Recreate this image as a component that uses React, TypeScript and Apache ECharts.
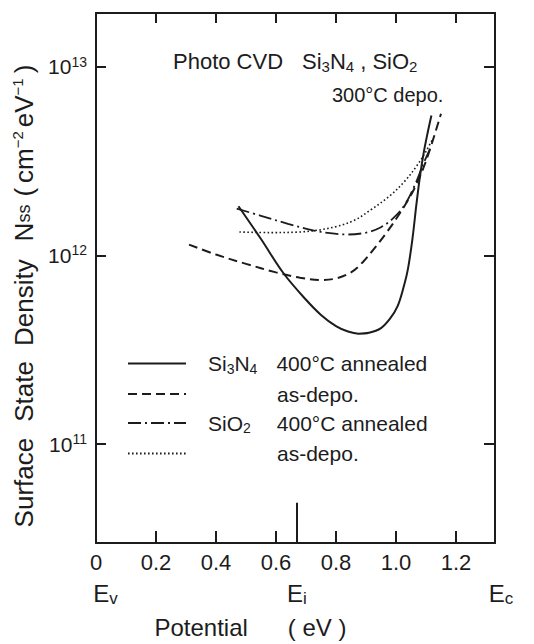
import React, { useEffect, useRef } from "react";
import * as echarts from "echarts";

// ---------- axis ranges & ticks ----------
const X_MIN = 0;
const X_MAX = 1.33;
const Y_MIN = 3.0e10;
const Y_MAX = 1.92e13;

const xTickValues = [0.2, 0.4, 0.6, 0.8, 1.0, 1.2];
const xLabelValues = [0, 0.2, 0.4, 0.6, 0.8, 1.0, 1.2];
const yTickValues = [1e11, 1e12, 1e13];

// band-edge labels under the axis (Ev, Ei, Ec)
const bandEdgeValues = [0, 0.67, 1.33];
const bandEdgeSubs = ["v", "i", "c"];
const EI = 0.67;
const EI_TICK_TOP = 4.9e10;

// ---------- data (Potential eV, Nss cm^-2 eV^-1) ----------
const si3n4AnnealedX = [0.475, 0.55, 0.625, 0.7, 0.75, 0.8, 0.84, 0.875, 0.91, 0.95, 0.98, 1.005, 1.025, 1.04, 1.055, 1.068, 1.08, 1.092, 1.105, 1.118];
const si3n4AnnealedN = [1.82e12, 1.22e12, 8.04e11, 5.82e11, 4.84e11, 4.22e11, 3.95e11, 3.85e11, 3.89e11, 4.12e11, 4.62e11, 5.37e11, 6.76e11, 8.51e11, 1.23e12, 1.86e12, 2.63e12, 3.47e12, 4.42e12, 5.5e12];

const si3n4AsDepoX = [0.31, 0.4, 0.5, 0.6, 0.68, 0.75, 0.8, 0.85, 0.89, 0.93, 0.97, 1.02, 1.06, 1.1, 1.15];
const si3n4AsDepoN = [1.14e12, 1.01e12, 9.02e11, 8.13e11, 7.62e11, 7.41e11, 7.55e11, 8.13e11, 9.23e11, 1.1e12, 1.33e12, 1.74e12, 2.24e12, 3.16e12, 5.62e12];

const sio2AnnealedX = [0.469, 0.55, 0.64, 0.72, 0.78, 0.84, 0.9, 0.95, 0.99, 1.03, 1.065, 1.09, 1.118];
const sio2AnnealedN = [1.77e12, 1.62e12, 1.47e12, 1.36e12, 1.31e12, 1.29e12, 1.32e12, 1.41e12, 1.57e12, 1.86e12, 2.4e12, 3.02e12, 3.8e12];

const sio2AsDepoX = [0.478, 0.58, 0.68, 0.74, 0.8, 0.86, 0.92, 0.98, 1.03, 1.07, 1.1, 1.12];
const sio2AsDepoN = [1.33e12, 1.32e12, 1.33e12, 1.36e12, 1.42e12, 1.53e12, 1.76e12, 2.07e12, 2.48e12, 2.99e12, 3.55e12, 4.07e12];

const seriesNames = [
  "Si3N4 400°C annealed",
  "Si3N4 as-depo.",
  "SiO2 400°C annealed",
  "SiO2 as-depo.",
];

// ---------- styling ----------
const INK = "#1c1c1c";
const FONT = "'Liberation Sans', Arial, sans-serif";
const lg = (v: number) => Math.log10(v);
const pairs = (xs: number[], ns: number[]) => xs.map((x, i) => [x, lg(ns[i])]);

const legendText: Record<string, string> = {
  "Si3N4 400°C annealed": "{p| }{t|Si}{sub|3}{t|N}{sub|4}{g1| }{t|400°C annealed}",
  "Si3N4 as-depo.": "{p| }{g0| }{t|as-depo.}",
  "SiO2 400°C annealed": "{p| }{t|SiO}{sub|2}{g3| }{t|400°C annealed}",
  "SiO2 as-depo.": "{p| }{g0| }{t|as-depo.}",
};

export default function App() {
  const ref = useRef<HTMLDivElement>(null);

  useEffect(() => {
    if (!ref.current) return;
    const chart = echarts.init(ref.current, undefined, { renderer: "svg" });

    const lineSeries = (name: string, data: number[][], lineStyle: any, extra: any = {}) => ({
      name,
      type: "line",
      data,
      smooth: 0.35,
      symbol: "none",
      showSymbol: false,
      silent: true,
      lineStyle: { color: INK, ...lineStyle },
      itemStyle: { color: INK },
      ...extra,
    });

    const axisLine = { show: true, onZero: false, lineStyle: { color: INK, width: 2 } };

    const option: any = {
      animation: false,
      backgroundColor: "#ffffff",
      grid: { left: 96, top: 13, width: 399, height: 536 },
      title: [
        {
          text: "{t|Photo CVD}{g| }{t|Si}{sub|3}{t|N}{sub|4}{t| ,}{c| }{t|SiO}{sub|2}",
          left: 173,
          top: 48,
          padding: 0,
          textStyle: {
            fontFamily: FONT,
            fontWeight: "normal",
            rich: {
              t: { fontFamily: FONT, fontSize: 22, lineHeight: 26, color: INK },
              sub: { fontFamily: FONT, fontSize: 15, lineHeight: 10, verticalAlign: "bottom", color: INK },
              g: { width: 19 },
              c: { width: 6 },
            },
          },
        },
        {
          text: "300°C depo.",
          left: 332,
          top: 85,
          padding: 0,
          textStyle: { fontFamily: FONT, fontWeight: "normal", fontSize: 20, color: INK },
        },
      ],
      legend: {
        data: seriesNames,
        orient: "vertical",
        left: 127,
        top: 353,
        padding: 0,
        itemWidth: 58,
        itemHeight: 14,
        itemGap: 8,
        selectedMode: false,
        itemStyle: { color: "rgba(0,0,0,0)", borderColor: "rgba(0,0,0,0)", borderWidth: 0 },
        formatter: (name: string) => legendText[name] || name,
        textStyle: {
          fontFamily: FONT,
          fontSize: 21,
          color: INK,
          rich: {
            t: { fontFamily: FONT, fontSize: 21, lineHeight: 24, color: INK },
            sub: { fontFamily: FONT, fontSize: 14, lineHeight: 10, verticalAlign: "bottom", color: INK },
            p: { width: 17 },
            g0: { width: 69 },
            g1: { width: 19 },
            g3: { width: 26 },
          },
        },
      },
      xAxis: [
        {
          type: "value",
          position: "bottom",
          min: X_MIN,
          max: X_MAX,
          axisLine,
          splitLine: { show: false },
          axisTick: { show: true, inside: true, length: 12, customValues: xTickValues, lineStyle: { color: INK, width: 2 } },
          axisLabel: {
            show: true,
            customValues: xLabelValues,
            margin: 8,
            formatter: (v: number) => (v === 0 ? "0" : v.toFixed(1)),
            fontFamily: FONT,
            fontSize: 22,
            color: INK,
          },
        },
        {
          type: "value",
          position: "top",
          min: X_MIN,
          max: X_MAX,
          axisLine,
          splitLine: { show: false },
          axisTick: { show: true, inside: true, length: 10, customValues: xTickValues, lineStyle: { color: INK, width: 2 } },
          axisLabel: { show: false },
        },
        {
          type: "value",
          position: "bottom",
          offset: 28,
          min: X_MIN,
          max: X_MAX,
          axisLine: { show: false },
          axisTick: { show: false },
          splitLine: { show: false },
          axisLabel: {
            show: true,
            customValues: bandEdgeValues,
            margin: 8,
            formatter: (v: number) => {
              const i = bandEdgeValues.findIndex((b) => Math.abs(b - v) < 1e-6);
              const sub = bandEdgeSubs[i] ?? "";
              const pre = i === 0 ? "{p0| }" : i === 2 ? "{p2| }" : "";
              return `${pre}{e|E}{s|${sub}}`;
            },
            rich: {
              e: { fontFamily: FONT, fontSize: 24, lineHeight: 28, color: INK },
              s: { fontFamily: FONT, fontSize: 17, lineHeight: 12, verticalAlign: "bottom", color: INK },
              p0: { width: 19 },
              p2: { width: 12 },
            },
          },
          name: "Potential      ( eV )",
          nameLocation: "middle",
          nameGap: 44,
          nameTextStyle: { fontFamily: FONT, fontSize: 24, color: INK, padding: [0, 90, 0, 0] },
        },
      ],
      yAxis: [
        {
          type: "value",
          position: "left",
          min: lg(Y_MIN),
          max: lg(Y_MAX),
          axisLine,
          splitLine: { show: false },
          axisTick: { show: true, inside: true, length: 10, customValues: yTickValues.map(lg), lineStyle: { color: INK, width: 2 } },
          axisLabel: {
            show: true,
            customValues: yTickValues.map(lg),
            margin: 9,
            formatter: (v: number) => `{b|10}{s|${Math.round(v)}}`,
            rich: {
              b: { fontFamily: FONT, fontSize: 21, lineHeight: 24, color: INK },
              s: { fontFamily: FONT, fontSize: 14, lineHeight: 8, verticalAlign: "top", color: INK },
            },
          },
          name:
            "{t|Surface}{g20| }{t|State}{g19| }{t|Density}{g22| }{t|N}{ss|ss}{g10| }{t|(}{g6| }{t|cm}{sup|−2}{g4| }{t|eV}{sup|−1}{g6| }{t|)}",
          nameLocation: "middle",
          nameGap: 52,
          nameTextStyle: {
            fontFamily: FONT,
            color: INK,
            padding: [0, 36, 0, 0],
            rich: {
              t: { fontFamily: FONT, fontSize: 26, lineHeight: 28, color: INK },
              ss: { fontFamily: FONT, fontSize: 18, lineHeight: 28, color: INK },
              sup: { fontFamily: FONT, fontSize: 15, lineHeight: 10, verticalAlign: "top", color: INK },
              g20: { width: 16 },
              g19: { width: 15 },
              g22: { width: 18 },
              g10: { width: 8 },
              g6: { width: 5 },
              g4: { width: 4 },
            },
          },
        },
        {
          type: "value",
          position: "right",
          min: lg(Y_MIN),
          max: lg(Y_MAX),
          axisLine,
          splitLine: { show: false },
          axisTick: { show: true, inside: true, length: 11, customValues: yTickValues.map(lg), lineStyle: { color: INK, width: 2 } },
          axisLabel: { show: false },
        },
      ],
      series: [
        lineSeries(seriesNames[0], pairs(si3n4AnnealedX, si3n4AnnealedN), { width: 2, type: "solid" }, {
          markLine: {
            silent: true,
            symbol: ["none", "none"],
            label: { show: false },
            lineStyle: { color: INK, width: 2, type: "solid" },
            data: [[{ coord: [EI, lg(Y_MIN)] }, { coord: [EI, lg(EI_TICK_TOP)] }]],
          },
        }),
        lineSeries(seriesNames[1], pairs(si3n4AsDepoX, si3n4AsDepoN), { width: 2, type: [9, 5] }),
        lineSeries(seriesNames[2], pairs(sio2AnnealedX, sio2AnnealedN), { width: 1.8, type: [13, 4, 2, 4] }),
        lineSeries(seriesNames[3], pairs(sio2AsDepoX, sio2AsDepoN), { width: 1.6, type: [1.6, 2.4] }),
      ],
    };

    chart.setOption(option);
    return () => chart.dispose();
  }, []);

  return (
    <div
      ref={ref}
      style={{ position: "absolute", left: 0, top: 0, width: 534, height: 644, background: "#fff" }}
    />
  );
}
